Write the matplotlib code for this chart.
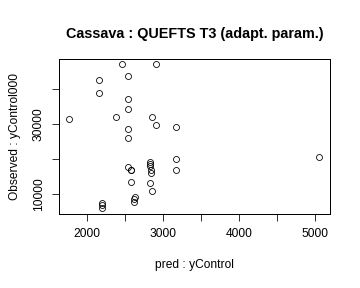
import matplotlib
matplotlib.use('Agg')
import matplotlib.pyplot as plt

# values
pred = [2460, 2900, 2158, 2540, 2158, 2540, 2540, 1759, 2378, 2851,
        2900, 3171, 2540, 2540, 3171, 2540, 2571, 2571, 2829, 2829,
        2829, 2838, 2838, 3171, 2571, 2829, 2847, 2624, 2614, 2614,
        2189, 2189, 2189, 5053]
observed = [47180, 47180, 42760, 43910, 38850, 37300, 34340, 31550, 32040, 32130,
            29830, 29080, 28680, 26010, 20110, 17760, 16950, 16670, 19200, 18530,
            17870, 16810, 15860, 16950, 13360, 13160, 10860, 9140, 8390, 7530,
            7410, 6750, 5890, 20630]

x_ticks = [2000, 2500, 3000, 3500, 4000, 4500, 5000]
x_labels = ['2000', '', '3000', '', '4000', '', '5000']
y_ticks = [10000, 20000, 30000, 40000]
y_labels = ['10000', '', '30000', '']

plt.rcParams['font.family'] = ['Liberation Sans', 'DejaVu Sans']

fig = plt.figure(figsize=(5, 4), dpi=72)
ax = fig.add_axes([59 / 360, 74 / 288, 271 / 360, 155 / 288])
ax.plot(pred, observed, 'o', mfc='none', mec='black', ms=6, mew=0.8)

ax.set_xlim(1628, 5193)
ax.set_ylim(4170, 48700)
ax.set_xticks(x_ticks)
ax.set_xticklabels(x_labels, fontsize=12)
ax.set_yticks(y_ticks)
ax.set_yticklabels(y_labels, fontsize=12, rotation=90, va='center')
ax.tick_params(length=7, width=0.8, pad=7)

for s in ax.spines.values():
    s.set_linewidth(1)

ax.set_xlabel('pred : yControl', fontsize=12, labelpad=19)
ax.set_ylabel('Observed : yControl000', fontsize=12, labelpad=12)
ax.set_title('Cassava : QUEFTS T3 (adapt. param.)', fontsize=14.4,
             fontweight='bold', pad=21)

fig.savefig('out.png', dpi=72)
